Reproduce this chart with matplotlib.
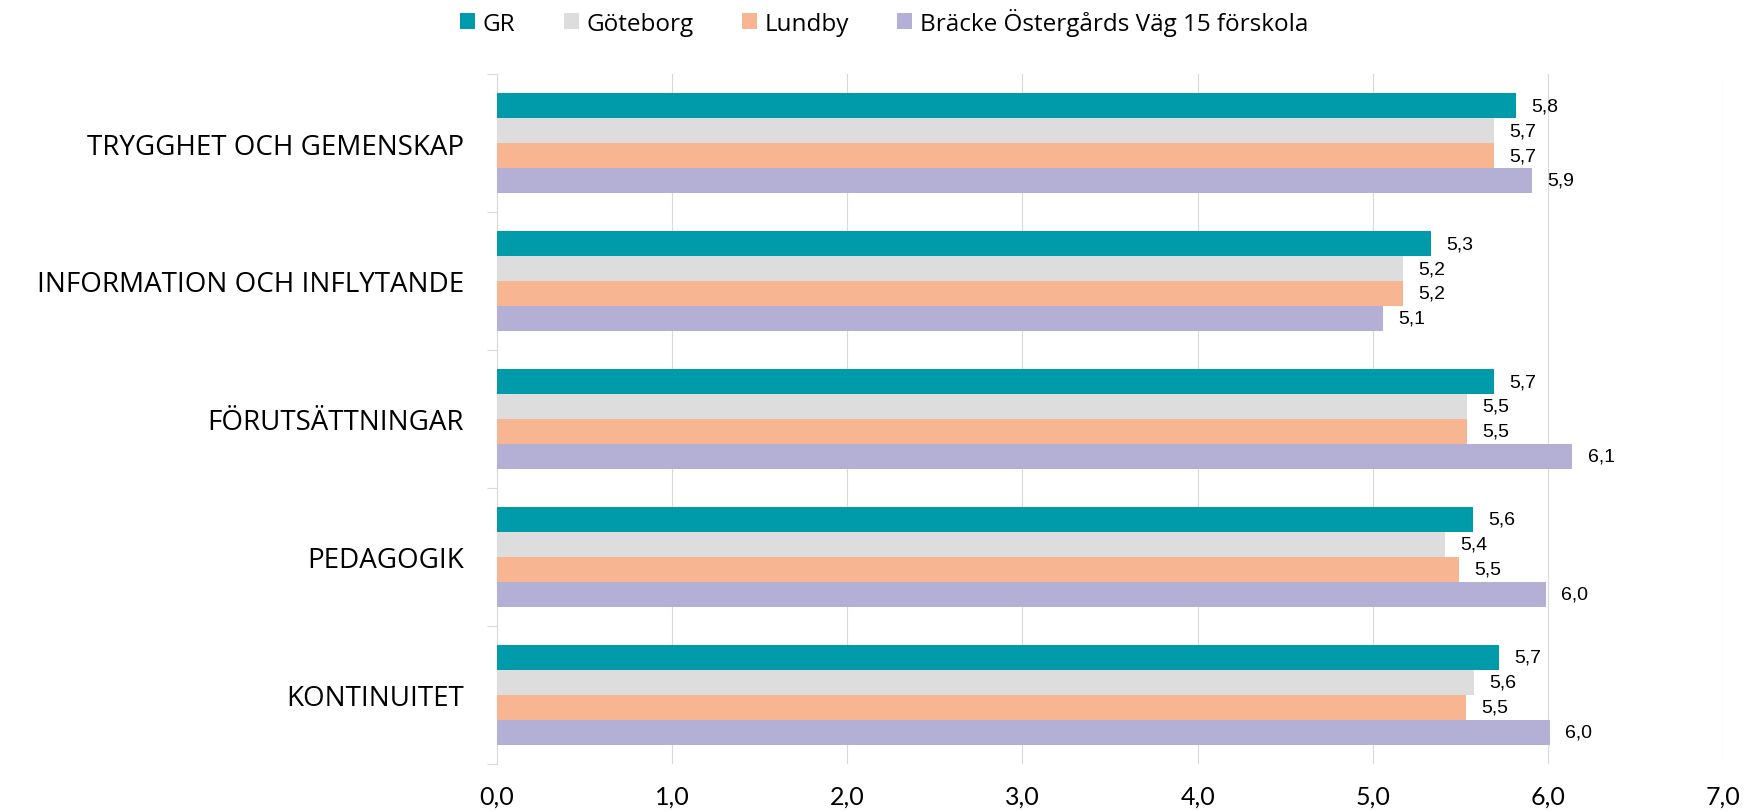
import numpy as np
import matplotlib
matplotlib.use("Agg")
import matplotlib.pyplot as plt
from matplotlib.patches import Patch

categories = ["TRYGGHET OCH GEMENSKAP", "INFORMATION OCH INFLYTANDE",
              "FÖRUTSÄTTNINGAR", "PEDAGOGIK", "KONTINUITET"]
series_names = ["GR", "Göteborg", "Lundby", "Bräcke Östergårds Väg 15 förskola"]
gr = [5.82, 5.33, 5.69, 5.57, 5.72]
goteborg = [5.69, 5.17, 5.54, 5.41, 5.58]
lundby = [5.69, 5.17, 5.54, 5.49, 5.53]
bracke = [5.91, 5.06, 6.14, 5.99, 6.01]
xticks = [0, 1, 2, 3, 4, 5, 6, 7]

colors = ["#009BAA", "#DDDDDD", "#F8B592", "#B4AFD4"]
series = [gr, goteborg, lundby, bracke]

fig = plt.figure(figsize=(17.44, 8.12), dpi=100)
ax = fig.add_axes([0.285, 0.058, 0.703, 0.8496])

n_cat = len(categories)
bar_h = 0.181
y_centers = np.arange(n_cat)

for i, (vals, col) in enumerate(zip(series, colors)):
    ys = y_centers + (i - 1.5) * bar_h
    bars = ax.barh(ys, vals, height=bar_h, color=col, zorder=3)
    for b, v in zip(bars, vals):
        ax.annotate(f"{v:.1f}".replace(".", ","),
                    xy=(b.get_width(), b.get_y() + b.get_height() / 2),
                    xytext=(11, 0), textcoords="offset points",
                    ha="left", va="center", fontsize=14,
                    family="Liberation Sans", color="#000000")

ax.set_xlim(0, 7)
ax.set_ylim(n_cat - 0.5, -0.5)
ax.set_xticks(xticks)
ax.set_xticklabels([f"{t:.1f}".replace(".", ",") for t in xticks],
                   family="Lato", fontsize=18)
ax.tick_params(axis="x", length=0, pad=15)

ax.set_yticks(y_centers)
ax.set_yticklabels(categories, family="Open Sans", fontsize=20)
ax.set_yticks(np.arange(n_cat + 1) - 0.5, minor=True)
ax.tick_params(axis="y", which="major", length=0, pad=24)
ax.tick_params(axis="y", which="minor", length=7, color="#D9D9D9", width=0.8)

ax.grid(axis="x", color="#D9D9D9", linewidth=0.8, zorder=0)
for s in ["top", "right", "bottom"]:
    ax.spines[s].set_visible(False)
ax.spines["left"].set_color("#D9D9D9")
ax.spines["left"].set_linewidth(0.8)

handles = [Patch(facecolor=c, label=n) for c, n in zip(colors, series_names)]
fig.legend(handles=handles, loc="upper center", bbox_to_anchor=(0.507, 1.016),
           ncol=4, frameon=False, handlelength=0.62, handleheight=0.62,
           handletextpad=0.3, columnspacing=2.0,
           prop={"family": "Open Sans", "size": 17.5})

fig.savefig("out.png", dpi=100)
